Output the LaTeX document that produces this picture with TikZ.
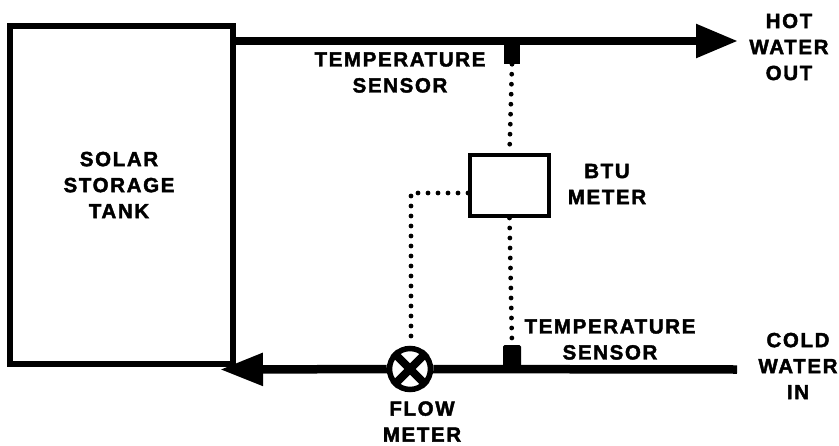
\documentclass[tikz,border=0pt]{standalone}
\usepackage{fontspec}
\setmainfont{Liberation Sans}[LetterSpace=8, BoldFeatures={FakeBold=2}]
\usetikzlibrary{arrows.meta}
\tikzset{
    pipe/.style={line width=8.5pt},
    signal/.style={line width=4.8pt, line cap=round, dash pattern=on 0pt off 10pt},
    label/.style={align=center, font=\fontsize{20.5}{26}\selectfont\bfseries, inner sep=0pt}
}
\begin{document}
\begin{tikzpicture}[x=1pt, y=-1pt]
        \useasboundingbox (0,0) rectangle (839,445);

        % Tank and meter
        \node[draw, line width=6pt, minimum width=223pt, minimum height=338pt, inner sep=0pt] (tank) at (121.5,195) {};
        \node[draw, line width=4pt, minimum width=79pt, minimum height=61pt, inner sep=0pt] (btu) at (509.5,185.5) {};
        \node[label] (tankname) at (119,185) {SOLAR\\STORAGE\\TANK};
        \node[label] (btuname) at (607,184) {BTU\\METER};

        % Pipe ends
        \coordinate (hotout) at (738,41);
        \coordinate (hotin) at (tank.east |- hotout);
        \coordinate (coldin) at (737,369.5);
        \coordinate (coldout) at (220,369.5);

        % Sensors on the pipes
        \node[fill=black, minimum width=16pt, minimum height=24pt, inner sep=0pt] (topsensor) at (512,52) {};
        \node[fill=black, minimum width=18pt, minimum height=25pt, inner sep=0pt, rounded corners=1.5pt] (botsensor) at (512,357.5) {};
        \node[draw, fill=white, circle, line width=5.5pt, minimum size=41pt, inner sep=0pt] (flow) at (410,369) {};

        % Hot water line
        \draw[pipe, -{Triangle[length=42pt, width=32pt]}] (hotin) -- (hotout);

        % Cold water line
        \draw[pipe] (coldin) -- (flow);
        \draw[pipe, -{Triangle[length=43pt, width=31pt]}] (flow) -- (coldout);
        \draw[line width=8pt] (flow.45) -- (flow.225);
        \draw[line width=8pt] (flow.135) -- (flow.315);

        % Signal wiring
        \coordinate (corner) at (411,193);
        \coordinate (tap) at (btu.west |- corner);
        \coordinate (drop) at (411,338);
        \draw[signal] (topsensor.south) -- (btu.north);
        \draw[signal] (btu.south) -- (botsensor.north);
        \draw[signal] (tap) -- (corner) -- (drop);

        % Labels
        \node[label] (topname) at (400,72.5) {TEMPERATURE\\SENSOR};
        \node[label] (botname) at (610,339.5) {TEMPERATURE\\SENSOR};
        \node[label] (flowname) at (422,421.5) {FLOW\\METER};
        \node[label] (hotname) at (789,47) {HOT\\WATER\\OUT};
        \node[label] (coldname) at (798,366) {COLD\\WATER\\IN};
    \end{tikzpicture}
\end{document}
